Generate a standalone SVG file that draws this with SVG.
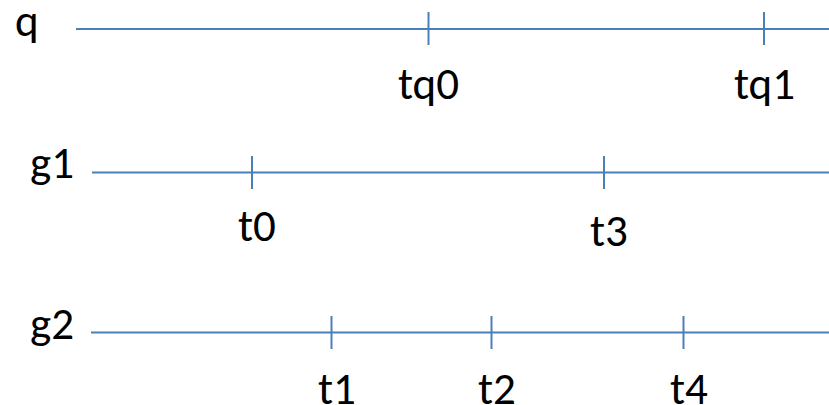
<svg xmlns="http://www.w3.org/2000/svg" width="829" height="405" viewBox="0 0 829 405">
  <style>
    .axis { stroke: #4a7ebb; stroke-width: 2; fill: none; }
    .tick { stroke: #4a7ebb; stroke-width: 2; }
    .lbl { font-family: Calibri, Carlito, Lato, sans-serif; font-size: 45px; fill: #000; }
  </style>
  <rect width="829" height="405" fill="#fff"/>

  <!-- timeline q -->
  <g id="timeline-q">
    <text class="lbl" x="15" y="36">q</text>
    <line class="axis" x1="76" y1="29" x2="829" y2="29"/>
    <line class="tick" x1="428.5" y1="12" x2="428.5" y2="45"/>
    <line class="tick" x1="764" y1="12" x2="764" y2="45"/>
    <text class="lbl" x="398" y="99">tq0</text>
    <text class="lbl" x="734" y="99">tq1</text>
  </g>

  <!-- timeline g1 -->
  <g id="timeline-g1">
    <text class="lbl" x="30" y="178">g1</text>
    <line class="axis" x1="92" y1="172.5" x2="829" y2="172.5"/>
    <line class="tick" x1="252" y1="156" x2="252" y2="189"/>
    <line class="tick" x1="604" y1="156" x2="604" y2="189"/>
    <text class="lbl" x="238" y="241">t0</text>
    <text class="lbl" x="590" y="246">t3</text>
  </g>

  <!-- timeline g2 -->
  <g id="timeline-g2">
    <text class="lbl" x="30" y="339">g2</text>
    <line class="axis" x1="91" y1="332.5" x2="829" y2="332.5"/>
    <line class="tick" x1="331.5" y1="316" x2="331.5" y2="349"/>
    <line class="tick" x1="491.5" y1="316" x2="491.5" y2="349"/>
    <line class="tick" x1="683.5" y1="316" x2="683.5" y2="349"/>
    <text class="lbl" x="318" y="404">t1</text>
    <text class="lbl" x="478" y="404">t2</text>
    <text class="lbl" x="670" y="404">t4</text>
  </g>
</svg>
